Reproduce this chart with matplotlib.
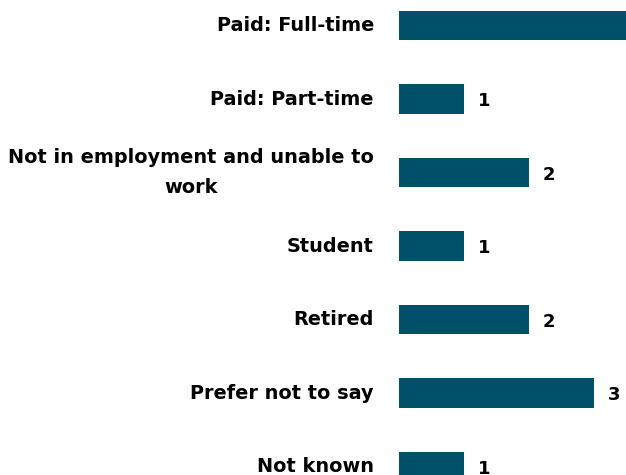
import matplotlib.pyplot as plt

categories = ["Paid: Full-time", "Paid: Part-time",
              "Not in employment and unable to\nwork", "Student",
              "Retired", "Prefer not to say", "Not known"]
counts = [4, 1, 2, 1, 2, 3, 1]

bar_color = "#005069"

plt.rcParams['font.family'] = ['DejaVu Sans']

fig = plt.figure(figsize=(6.26, 4.75), dpi=100)
# axes run past the right edge, like the cropped original
ax = fig.add_axes([399 / 626, 0, 260 / 626, 1])

y = list(range(len(categories)))
ax.barh(y, counts, height=0.4, color=bar_color)

for yi, v in zip(y, counts):
    ax.annotate(f"{v}", xy=(v, yi), xytext=(14, -2), textcoords='offset pixels',
                fontsize=13, fontweight='bold', va='center', ha='left', color='black')

# category labels, right-aligned left of the bars
for yi, cat in zip(y, categories):
    ax.annotate(cat, xy=(0, yi), xytext=(-25, 0), textcoords='offset pixels',
                fontsize=13.9, fontweight='bold', va='center', ha='right',
                multialignment='center', linespacing=1.75, annotation_clip=False)

ax.set_xlim(0, 4)
ax.set_ylim(6.115, -0.347)
ax.set_xticks([])
ax.set_yticks([])
for s in ax.spines.values():
    s.set_visible(False)

fig.savefig("out.png", dpi=100)
